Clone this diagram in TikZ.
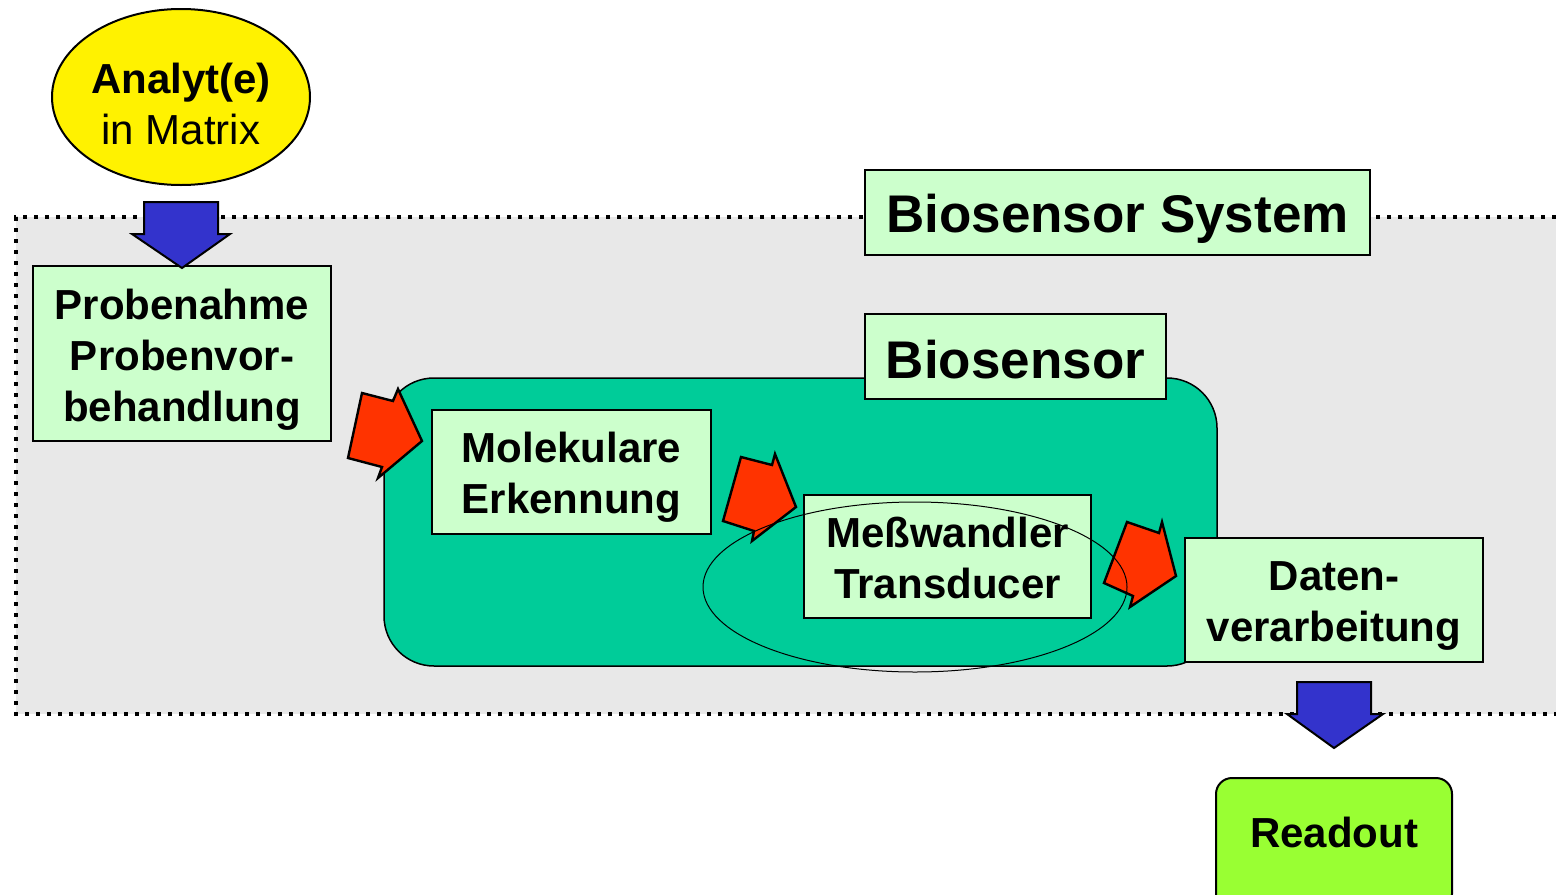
\documentclass[tikz,border=0pt]{standalone}
\usepackage{fontspec}
\setmainfont{Liberation Sans}
\usetikzlibrary{shapes.geometric}
\definecolor{lightbox}{HTML}{CCFFCC}
\definecolor{sysgray}{HTML}{E8E8E8}
\definecolor{bioteal}{HTML}{00CC99}
\definecolor{redarr}{HTML}{FF3300}
\definecolor{bluearr}{HTML}{3333CC}
\definecolor{readgreen}{HTML}{99FF33}
\tikzset{
  stagebox/.style={draw=black, line width=0.75pt, fill=lightbox, inner sep=0pt},
  stagetext/.style={align=center, inner sep=0pt, font=\fontsize{21}{25.5}\selectfont\bfseries},
  titletext/.style={inner sep=0pt, font=\fontsize{26.5}{30}\selectfont\bfseries},
  redblock/.style={draw=black, line width=1.2pt, fill=redarr, line join=miter},
  blueblock/.style={draw=black, line width=1pt, fill=bluearr, line join=miter},
}
\begin{document}
\begin{tikzpicture}[x=0.5pt, y=-0.5pt]
\useasboundingbox (0,0) rectangle (1556,894);
\clip (0,0) rectangle (1556,894);
% system area
\fill[sysgray] (16,217) rectangle (1600,714);
\draw[line width=2pt, dash pattern=on 2pt off 3.5pt] (1600,217) -- (16,217) -- (16,714) -- (1600,714);
% biosensor body
\draw[line width=0.75pt, fill=bioteal, rounded corners=25pt] (384,378) rectangle (1217,666);
% titles
\node[stagebox, minimum width=252.5pt, minimum height=42.5pt] (sys) at (1117.5,212.5) {};
\node[titletext, yshift=-3pt] (systxt) at (sys.center) {Biosensor System};
\node[stagebox, minimum width=150.5pt, minimum height=42.5pt] (bio) at (1015.5,356.5) {};
\node[titletext, yshift=-1.5pt] (biotxt) at (bio.center) {Biosensor};
% stage boxes
\node[stagebox, minimum width=149pt, minimum height=87.5pt] (probe) at (182,353.5) {};
\node[stagetext, yshift=-3pt] (probetxt) at (probe.center) {Probenahme\\Probenvor-\\behandlung};
\node[stagebox, minimum width=139.5pt, minimum height=62pt] (mol) at (571.5,472) {};
\node[stagetext, yshift=-2.75pt] (moltxt) at (mol.center) {Molekulare\\Erkennung};
\node[stagebox, minimum width=143.5pt, minimum height=61.5pt] (mess) at (947.5,556.5) {};
\node[stagetext, yshift=-0.5pt] (messtxt) at (mess.center) {Meßwandler\\Transducer};
\node[stagebox, minimum width=149pt, minimum height=62pt] (daten) at (1334,600) {};
\node[stagetext, yshift=-3pt] (datentxt) at (daten.center) {Daten-\\verarbeitung};
% readout
\draw[line width=1pt, fill=readgreen, rounded corners=8pt] (1216,778) rectangle (1452,910);
\node[stagetext] (read) at (1334,832) {Readout};
% analyte
\node[ellipse, draw=black, line width=1pt, fill=yellow, minimum width=129pt, minimum height=88pt, inner sep=0pt] (ana) at (181,97) {};
\node[align=center, inner sep=0pt, font=\fontsize{21}{25.5}\selectfont, yshift=-3.7pt] (anatxt) at (ana.center) {\textbf{Analyt(e)}\\in Matrix};
% blue arrows
\draw[blueblock] (144,202) -- (218,202) -- (218,234) -- (230,234) -- (182,268) -- (132,234) -- (144,234) -- cycle;
\draw[blueblock] (1297,682) -- (1371,682) -- (1371,714) -- (1383,714) -- (1334,748) -- (1287,714) -- (1297,714) -- cycle;
% red arrows
\draw[redblock] (362,393) -- (393,401) -- (398,389) -- (422,441) -- (378,478) -- (382,467) -- (348,458) -- cycle;
\draw[redblock] (741,457) -- (772,465) -- (775,454) -- (796,507) -- (752,541) -- (754,531) -- (723,521) -- cycle;
\draw[redblock] (1127,522) -- (1159,533) -- (1162,522) -- (1176,576) -- (1130,607) -- (1133,596) -- (1104,583) -- cycle;
% transducer ellipse
\draw[line width=0.5pt] (915,587) ellipse [x radius=106pt, y radius=42.5pt];
\end{tikzpicture}
\end{document}
